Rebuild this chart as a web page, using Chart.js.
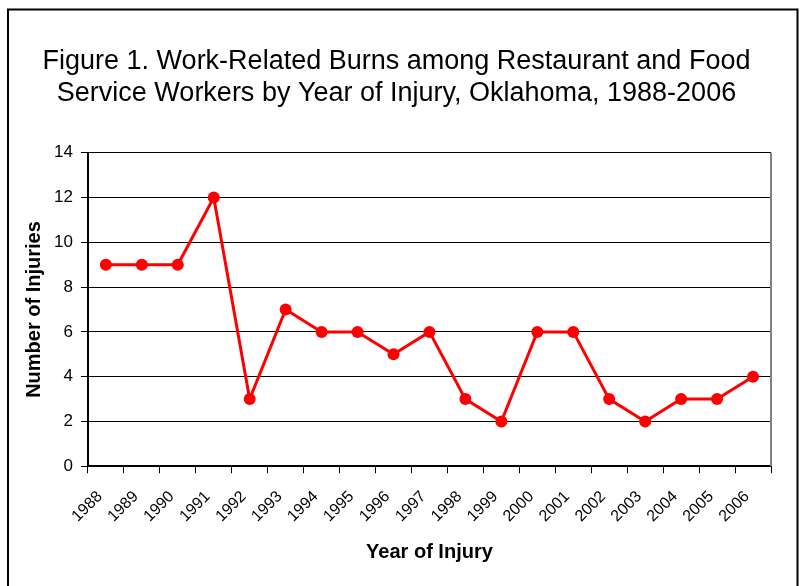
<!DOCTYPE html>
<html>
<head>
<meta charset="utf-8">
<script src="https://cdn.jsdelivr.net/npm/chart.js@4/dist/chart.umd.min.js"></script>
<style>
html,body{margin:0;padding:0;background:#fff;}
#wrap{position:relative;width:800px;height:586px;}
</style>
</head>
<body>
<div id="wrap"><canvas id="c" width="800" height="586"></canvas></div>
<script>
const years = ['1988','1989','1990','1991','1992','1993','1994','1995','1996','1997','1998','1999','2000','2001','2002','2003','2004','2005','2006'];
const injuries = [9,9,9,12,3,7,6,6,5,6,3,2,6,6,3,2,3,3,4];
const yTicks = [0,2,4,6,8,10,12,14];
const titleLines = ['Figure 1. Work-Related Burns among Restaurant and Food','Service Workers by Year of Injury, Oklahoma, 1988-2006'];
const xTitle = 'Year of Injury';
const yTitle = 'Number of Injuries';

const FONT = "'Liberation Sans', Arial, sans-serif";

const frame = {
  id: 'frame',
  beforeDraw(chart) {
    const ctx = chart.ctx;
    ctx.save();
    ctx.fillStyle = '#fff';
    ctx.fillRect(0, 0, chart.width, chart.height);
    ctx.strokeStyle = '#000';
    ctx.lineWidth = 2;
    ctx.beginPath();
    ctx.moveTo(8, 600);
    ctx.lineTo(8, 9.5);
    ctx.lineTo(797.5, 9.5);
    ctx.lineTo(797.5, 600);
    ctx.stroke();
    ctx.restore();
  },
  beforeDatasetsDraw(chart) {
    const a = chart.chartArea, ctx = chart.ctx;
    ctx.save();
    ctx.strokeStyle = '#808080';
    ctx.lineWidth = 2;
    ctx.beginPath();
    ctx.moveTo(a.right, a.top);
    ctx.lineTo(a.right, a.bottom);
    ctx.stroke();
    ctx.restore();
  }
};

new Chart(document.getElementById('c'), {
  type: 'line',
  data: {
    labels: years,
    datasets: [{
      data: injuries,
      borderColor: '#ff0000',
      backgroundColor: '#ff0000',
      borderWidth: 3,
      pointRadius: 6,
      pointHoverRadius: 6,
      pointBorderWidth: 0,
      tension: 0
    }]
  },
  options: {
    responsive: false,
    animation: false,
    devicePixelRatio: 1,
    layout: { padding: { left: 22, right: 29, top: 45, bottom: 22 } },
    plugins: {
      legend: { display: false },
      tooltip: { enabled: false },
      title: {
        display: true,
        text: titleLines,
        color: '#000',
        font: { family: FONT, size: 27, weight: 'normal', lineHeight: 1.2 },
        padding: { top: 0, bottom: 43 }
      }
    },
    scales: {
      x: {
        offset: true,
        grid: { offset: true, drawOnChartArea: false, color: '#000', tickLength: 7, lineWidth: 1 },
        border: { color: '#000', width: 2 },
        ticks: { color: '#000', font: { family: FONT, size: 16 }, minRotation: 45, maxRotation: 45, autoSkip: false, padding: 14, labelOffset: -6 },
        title: { display: true, text: xTitle, color: '#000', font: { family: FONT, size: 20, weight: 'bold' }, padding: { top: 0, bottom: 0 } }
      },
      y: {
        min: 0, max: 14,
        afterBuildTicks(axis) { axis.ticks = yTicks.map(v => ({ value: v })); },
        grid: { color: '#000', lineWidth: 1, tickLength: 7 },
        border: { color: '#000', width: 2 },
        ticks: { color: '#000', font: { family: FONT, size: 17 }, padding: 8 },
        title: { display: true, text: yTitle, color: '#000', font: { family: FONT, size: 20, weight: 'bold' }, padding: { top: 0, bottom: 0 } }
      }
    }
  },
  plugins: [frame]
});
</script>
</body>
</html>
